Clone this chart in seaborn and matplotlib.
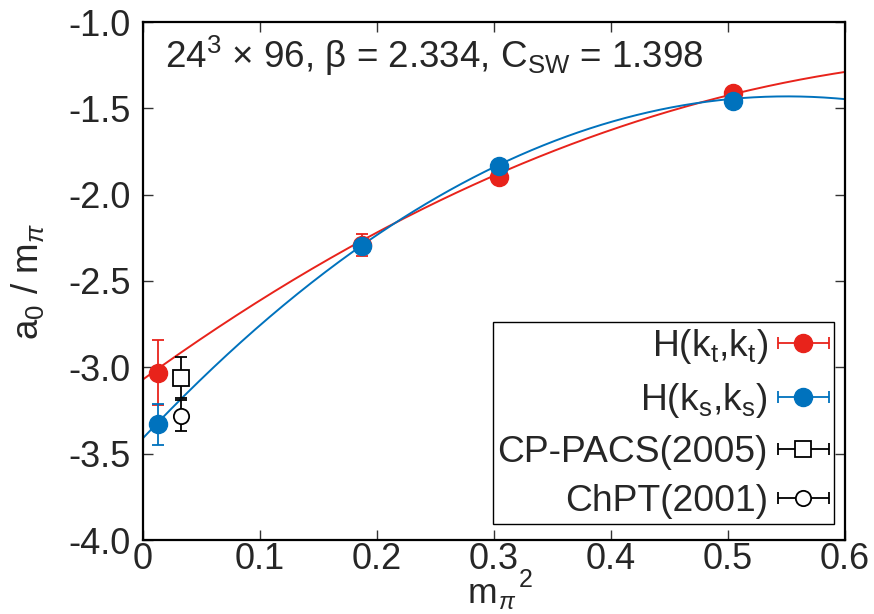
import numpy as np
import pandas as pd
import matplotlib
matplotlib.use("Agg")
import matplotlib.pyplot as plt
import seaborn as sns
from matplotlib.legend_handler import HandlerErrorbar

# ---- data -------------------------------------------------------------
m2_lat = [0.013, 0.187, 0.304, 0.504]          # m_pi^2 of the lattice ensembles
a0_kt = [-3.03, -2.29, -1.90, -1.41]           # H(k_t,k_t)
a0_kt_err = [0.19, 0.065, 0.04, 0.03]
a0_ks = [-3.33, -2.30, -1.835, -1.455]         # H(k_s,k_s)
a0_ks_err = [0.12, 0.03, 0.02, 0.02]

m2_ref = [0.0325]
a0_cppacs = [-3.06]                            # CP-PACS(2005)
a0_cppacs_err = [0.12]
a0_chpt = [-3.28]                              # ChPT(2001)
a0_chpt_err = [0.09]

# quadratic chiral fits a + b m^2 + c m^4 (coefficients: a, b, c)
fit_kt = [-3.07, 4.90, -3.22]
fit_ks = [-3.41, 7.19, -6.53]

xticks = [0.0, 0.1, 0.2, 0.3, 0.4, 0.5, 0.6]
xticklabels = ["0", "0.1", "0.2", "0.3", "0.4", "0.5", "0.6"]
yticks = [-4.0, -3.5, -3.0, -2.5, -2.0, -1.5, -1.0]
yticklabels = ["-4.0", "-3.5", "-3.0", "-2.5", "-2.0", "-1.5", "-1.0"]

RED = "#e8231b"
BLUE = "#0072bd"

# ---- style -------------------------------------------------------------
sns.set_theme(style="ticks")
plt.rcParams["font.family"] = ["Liberation Sans", "DejaVu Sans"]
plt.rcParams["mathtext.fontset"] = "custom"
plt.rcParams["mathtext.rm"] = "Liberation Sans"
plt.rcParams["mathtext.it"] = "Liberation Sans:italic"
plt.rcParams["mathtext.bf"] = "Liberation Sans:bold"
plt.rcParams["axes.unicode_minus"] = False

FS_TICK = 26
FS_TEXT = 26.5
FS_LEG = 26.8

fig = plt.figure(figsize=(8.74, 6.14), dpi=100)
ax = fig.add_axes([143 / 874, 1 - 540 / 614, 702 / 874, 518 / 614])

# fit curves
grid = np.linspace(0.0, 0.6, 301)
curves = pd.DataFrame({
    "m2": np.concatenate([grid, grid]),
    "a0": np.concatenate([np.polyval(fit_kt[::-1], grid),
                          np.polyval(fit_ks[::-1], grid)]),
    "fit": ["kt"] * len(grid) + ["ks"] * len(grid),
})
sns.lineplot(data=curves, x="m2", y="a0", hue="fit",
             palette={"kt": RED, "ks": BLUE}, linewidth=1.4,
             legend=False, ax=ax, zorder=2)

# data points
MS = 13
eb_kw = dict(capsize=4.5, elinewidth=1.3, capthick=1.3, linestyle="none")
ax.errorbar(m2_lat, a0_kt, yerr=a0_kt_err, fmt="o", color=RED, ms=MS,
            mec=RED, zorder=4, **eb_kw)
ax.errorbar(m2_lat, a0_ks, yerr=a0_ks_err, fmt="o", color=BLUE, ms=MS,
            mec=BLUE, zorder=4, **eb_kw)
ax.errorbar(m2_ref, a0_cppacs, yerr=a0_cppacs_err, fmt="s", color="black",
            mfc="white", mec="black", ms=11, mew=1.3, zorder=4, **eb_kw)
ax.errorbar(m2_ref, a0_chpt, yerr=a0_chpt_err, fmt="o", color="black",
            mfc="white", mec="black", ms=11, mew=1.3, zorder=4, **eb_kw)

# key entries (horizontal bars with caps)
nan = [np.nan]
h1 = ax.errorbar(nan, nan, xerr=[1], fmt="o", color=RED, mec=RED, ms=MS, **eb_kw)
h2 = ax.errorbar(nan, nan, xerr=[1], fmt="o", color=BLUE, mec=BLUE, ms=MS, **eb_kw)
h3 = ax.errorbar(nan, nan, xerr=[1], fmt="s", color="black", mfc="white",
                 mec="black", ms=11, mew=1.3, **eb_kw)
h4 = ax.errorbar(nan, nan, xerr=[1], fmt="o", color="black", mfc="white",
                 mec="black", ms=11, mew=1.3, **eb_kw)

leg = ax.legend(
    [h1, h2, h3, h4],
    [r"H(k$_{\rm t}$,k$_{\rm t}$)", r"H(k$_{\rm s}$,k$_{\rm s}$)",
     "CP-PACS(2005)", "ChPT(2001)"],
    loc="lower right", bbox_to_anchor=(0.984, 0.031), markerfirst=False,
    fontsize=FS_LEG, frameon=True, fancybox=False, edgecolor="black",
    framealpha=1, handlelength=1.4, handletextpad=0.25, labelspacing=0.4,
    borderpad=0.12, borderaxespad=0, numpoints=1,
    handler_map={type(h1): HandlerErrorbar(xerr_size=0.68)},
)
leg.get_frame().set_linewidth(1.0)

# annotation
ax.text(0.031, 0.935,
        r"24$^{\rm 3}$ × 96, β = 2.334, C$_{\rm SW}$ = 1.398",
        transform=ax.transAxes, fontsize=FS_TEXT, ha="left", va="center")

# axes
ax.set_xlim(0, 0.6)
ax.set_ylim(-4.0, -1.0)
ax.set_xticks(xticks)
ax.set_xticklabels(xticklabels)
ax.set_yticks(yticks)
ax.set_yticklabels(yticklabels)
ax.tick_params(direction="in", top=True, right=True, length=7, width=1,
               labelsize=FS_TICK, color="#333333")
ax.tick_params(axis="y", pad=9)
ax.tick_params(axis="x", pad=1.5)
for s in ax.spines.values():
    s.set_linewidth(1.6)
    s.set_color("black")
ax.set_xlabel("")

# x-axis title m_pi^2, with subscript and superscript set side by side
fig.text(468 / 874, 1 - 603 / 614, "m", fontsize=25.5,
         ha="left", va="baseline")
fig.text(498 / 874, 1 - 609 / 614, r"$\pi$", fontsize=17,
         ha="left", va="baseline")
fig.text(519 / 874, 1 - 587 / 614, "2", fontsize=18,
         ha="left", va="baseline")

ax.set_ylabel(r"a$_{\rm 0}$ / m$_{\pi}$", fontsize=FS_TEXT, labelpad=16)

fig.savefig("out.png", dpi=100)
